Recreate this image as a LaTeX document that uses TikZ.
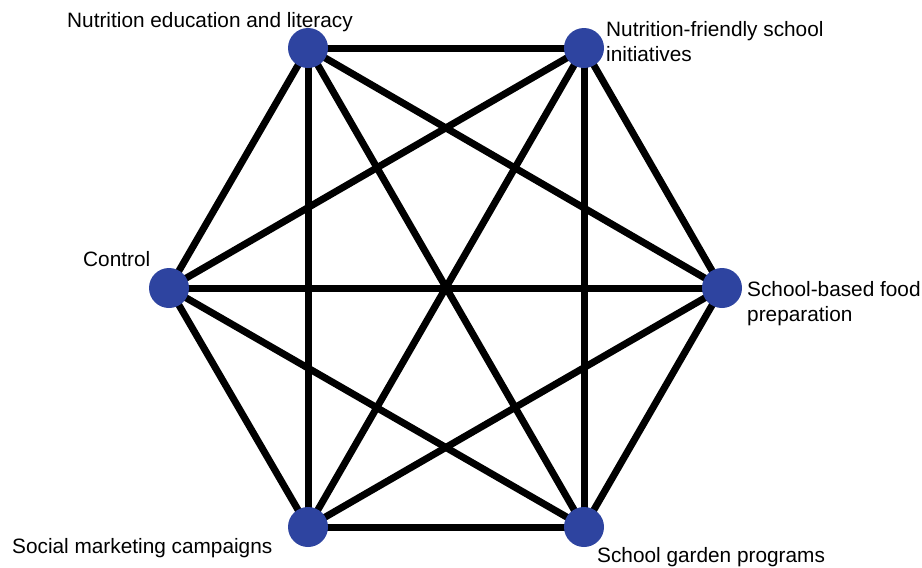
\documentclass[tikz,border=0pt]{standalone}
\usepackage{fontspec}
\setmainfont{Liberation Sans}
\usetikzlibrary{backgrounds}
\definecolor{nodeblue}{HTML}{2E44A0}
\tikzset{
  vtx/.style={circle, fill=nodeblue, draw=none, minimum size=40pt, inner sep=0pt},
  lbl/.style={font=\fontsize{20.8}{25.5}\selectfont, inner sep=0pt, align=left, anchor=base west},
  edge/.style={line width=7pt, black}
}
\begin{document}
\begin{tikzpicture}[x=1pt, y=-1pt]
\useasboundingbox (0,0) rectangle (922,568);
\node[vtx] (edu) at (308,48) {};
\node[vtx] (fri) at (584,48) {};
\node[vtx] (food) at (722,288) {};
\node[vtx] (gar) at (584,527) {};
\node[vtx] (soc) at (308,527) {};
\node[vtx] (ctl) at (169,288) {};
\begin{scope}[on background layer]
\foreach \a/\b in {edu/fri,edu/food,edu/gar,edu/soc,edu/ctl,fri/food,fri/gar,fri/soc,fri/ctl,food/gar,food/soc,food/ctl,gar/soc,gar/ctl,soc/ctl}
  \draw[edge] (\a.center) -- (\b.center);
\end{scope}
\node[lbl] (tedu) at (67,27) {Nutrition education and literacy};
\node[lbl] (tfri) at (606,61.5) {Nutrition-friendly school\\initiatives};
\node[lbl] (tfood) at (747,321.5) {School-based food\\preparation};
\node[lbl] (tgar) at (597,562) {School garden programs};
\node[lbl] (tsoc) at (12,553) {Social marketing campaigns};
\node[lbl] (tctl) at (83,266) {Control};
\end{tikzpicture}
\end{document}
